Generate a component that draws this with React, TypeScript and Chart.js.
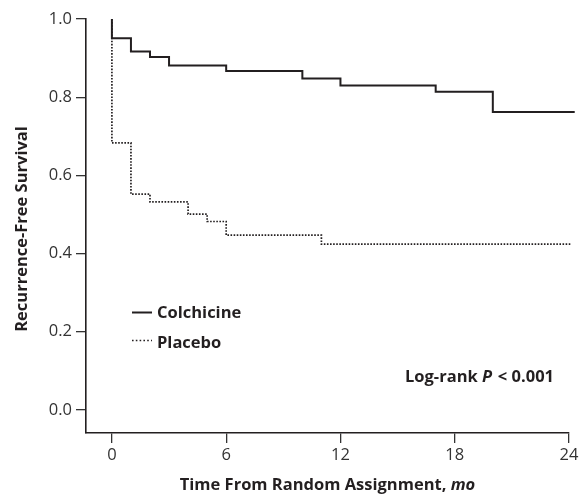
import React, { useEffect, useRef } from "react";
import { Chart, registerables } from "chart.js";

Chart.register(...registerables);

const colchicineTime = [0, 0, 1, 2, 3, 6, 10, 12, 17, 20, 24.3];
const colchicineSurv = [1.0, 0.951, 0.917, 0.903, 0.881, 0.867, 0.848, 0.83, 0.814, 0.762, 0.762];
const placeboTime = [0, 0, 1, 2, 4, 5, 6, 11, 24.1];
const placeboSurv = [1.0, 0.683, 0.552, 0.532, 0.501, 0.482, 0.447, 0.424, 0.424];
const xTicks = [0, 6, 12, 18, 24];
const yTicks = [0.0, 0.2, 0.4, 0.6, 0.8, 1.0];
const seriesNames = ["Colchicine", "Placebo"];

const INK = "#231f20";
const FONT = "'Open Sans', 'Noto Sans', sans-serif";
const BOLD = `bold 16.5px ${FONT}`;
const BOLDIT = `italic bold 16.5px ${FONT}`;

const textPlugin = {
  id: "customText",
  afterDraw(chart: any) {
    const ctx = chart.ctx;
    const area = chart.chartArea;
    ctx.save();
    ctx.fillStyle = INK;
    ctx.textBaseline = "middle";
    // Y title
    ctx.save();
    ctx.translate(22, 229);
    ctx.rotate(-Math.PI / 2);
    ctx.textAlign = "center";
    ctx.font = BOLD;
    ctx.fillText("Recurrence-Free Survival", 0, 0);
    ctx.restore();
    // X title with italic "mo"
    const p1 = "Time From Random Assignment, ";
    const p2 = "mo";
    ctx.font = BOLD;
    const w1 = ctx.measureText(p1).width;
    ctx.font = BOLDIT;
    const w2 = ctx.measureText(p2).width;
    const cx = (area.left + area.right) / 2;
    const x = cx - (w1 + w2) / 2;
    ctx.textAlign = "left";
    ctx.font = BOLD;
    ctx.fillText(p1, x, 485);
    ctx.font = BOLDIT;
    ctx.fillText(p2, x + w1, 485);
    // Legend
    ctx.strokeStyle = INK;
    ctx.lineWidth = 2;
    ctx.setLineDash([]);
    ctx.beginPath();
    ctx.moveTo(132, 312.5);
    ctx.lineTo(152, 312.5);
    ctx.stroke();
    ctx.lineWidth = 1.6;
    ctx.setLineDash([1.6, 2.2]);
    ctx.beginPath();
    ctx.moveTo(132, 340.5);
    ctx.lineTo(152, 340.5);
    ctx.stroke();
    ctx.setLineDash([]);
    ctx.font = BOLD;
    ctx.fillText(seriesNames[0], 157, 313);
    ctx.fillText(seriesNames[1], 157, 343);
    // Log-rank
    const a = "Log-rank ";
    const b = "P";
    const c = " < 0.001";
    ctx.font = BOLD;
    const wa = ctx.measureText(a).width;
    const wc = ctx.measureText(c).width;
    ctx.font = BOLDIT;
    const wb = ctx.measureText(b).width;
    const lx = 554 - (wa + wb + wc + 1.5);
    ctx.font = BOLD;
    ctx.fillText(a, lx, 377);
    ctx.font = BOLDIT;
    ctx.fillText(b, lx + wa, 377);
    ctx.font = BOLD;
    ctx.fillText(c, lx + wa + wb + 1.5, 377);
    ctx.restore();
  },
};

export default function App() {
  const ref = useRef<HTMLCanvasElement>(null);
  useEffect(() => {
    if (!ref.current) return;
    const chart = new Chart(ref.current, {
      type: "line",
      data: {
        datasets: [
          {
            label: seriesNames[0],
            data: colchicineTime.map((t, i) => ({ x: t, y: colchicineSurv[i] })),
            borderColor: INK,
            borderWidth: 2,
            stepped: "before",
            pointRadius: 0,
            fill: false,
            clip: false as any,
          },
          {
            label: seriesNames[1],
            data: placeboTime.map((t, i) => ({ x: t, y: placeboSurv[i] })),
            borderColor: INK,
            borderWidth: 1.7,
            borderDash: [1.6, 1.5],
            stepped: "before",
            pointRadius: 0,
            fill: false,
            clip: false as any,
          },
        ],
      },
      options: {
        animation: false,
        responsive: true,
        maintainAspectRatio: false,
        layout: { padding: { left: 0, right: 18, top: 19, bottom: 0 } },
        plugins: { legend: { display: false }, tooltip: { enabled: false } },
        scales: {
          x: {
            type: "linear",
            min: -1.36,
            max: 24,
            afterBuildTicks: (s: any) => {
              s.ticks = xTicks.map((v) => ({ value: v }));
            },
            afterFit: (s: any) => {
              s.height = 63;
            },
            grid: {
              display: true,
              drawOnChartArea: false,
              drawTicks: true,
              tickLength: 10,
              color: "#333",
              lineWidth: 1.3,
            },
            border: { display: true, color: INK, width: 1.6 },
            ticks: {
              color: "#333",
              font: { family: FONT, size: 16.5 },
              padding: 2,
              maxRotation: 0,
              callback: (v: any) => String(v),
            },
          },
          y: {
            type: "linear",
            min: -0.059,
            max: 1.0,
            afterBuildTicks: (s: any) => {
              s.ticks = yTicks.map((v) => ({ value: v }));
            },
            afterFit: (s: any) => {
              s.width = 86;
            },
            grid: {
              display: true,
              drawOnChartArea: false,
              drawTicks: true,
              tickLength: 10,
              color: "#333",
              lineWidth: 1.3,
            },
            border: { display: true, color: INK, width: 1.6 },
            ticks: {
              color: "#333",
              font: { family: FONT, size: 16.5 },
              padding: 4,
              callback: (v: any) => Number(v).toFixed(1),
            },
          },
        },
      },
      plugins: [textPlugin],
    });
    return () => chart.destroy();
  }, []);
  return (
    <div style={{ position: "fixed", left: 0, top: 0, width: 587, height: 496, background: "#fff" }}>
      <canvas ref={ref} />
    </div>
  );
}
